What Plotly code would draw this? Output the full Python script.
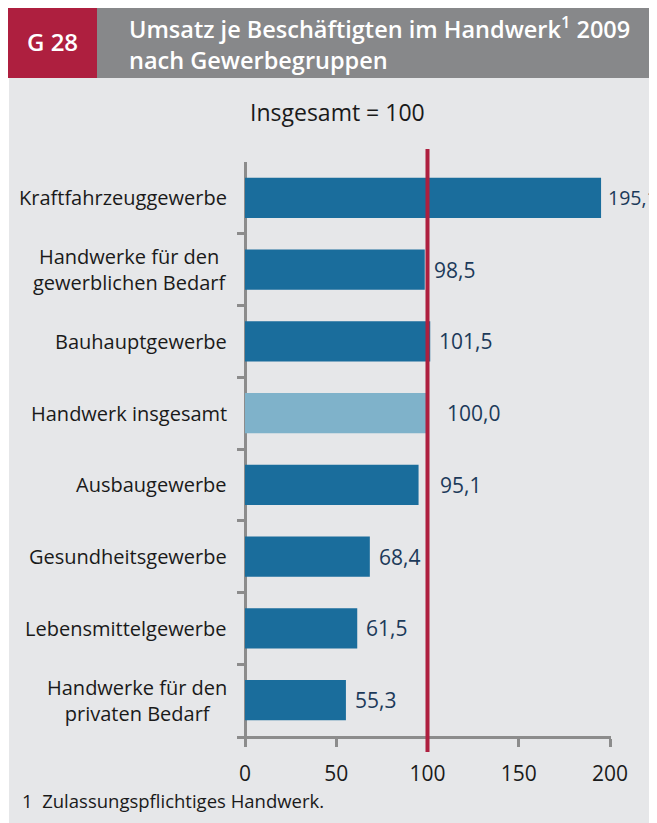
import plotly.graph_objects as go

categories = ["Kraftfahrzeuggewerbe", "Handwerke für den<br>gewerblichen Bedarf", "Bauhauptgewerbe",
              "Handwerk insgesamt", "Ausbaugewerbe", "Gesundheitsgewerbe",
              "Lebensmittelgewerbe", "Handwerke für den<br>privaten Bedarf"]
values = [195.1, 98.5, 101.5, 100.0, 95.1, 68.4, 61.5, 55.3]
value_labels = ["195,1", "98,5", "101,5", "100,0", "95,1", "68,4", "61,5", "55,3"]
x_ticks = [0, 50, 100, 150, 200]
reference_value = 100

# page is placed with an 8px body margin
OFF = 8
W, H = 657 - OFF, 823 - OFF
# plot area in reference (page) pixels
L, R, T, B = 237, 611, 162, 736

def px(x):
    return (x - L) / (R - L)

def py(y):
    return (B - y) / (B - T)

DARK = "#1a6d9c"
LIGHT = "#7fb2ca"
RED = "#ae1f3f"
GRAY_HEAD = "#87888a"
PANEL = "#e6e7e9"
AXIS = "#8c8c8c"
TXT = "#1a1a1a"
VAL = "#1c3a5a"
FONT = "Open Sans"

colors = [LIGHT if c == "Handwerk insgesamt" else DARK for c in categories]

fig = go.Figure()
fig.add_trace(go.Bar(
    x=values, y=categories, orientation="h", marker=dict(color=colors, line=dict(width=0)),
    width=0.56, hoverinfo="skip",
))

shapes = [
    dict(type="rect", xref="paper", yref="paper", x0=px(9), x1=px(700), y0=py(78), y1=py(900),
         fillcolor=PANEL, line=dict(width=0), layer="below"),
    dict(type="rect", xref="paper", yref="paper", x0=px(7), x1=px(97), y0=py(6), y1=py(78),
         fillcolor=RED, line=dict(width=0), layer="below"),
    dict(type="rect", xref="paper", yref="paper", x0=px(97), x1=px(700), y0=py(6), y1=py(78),
         fillcolor=GRAY_HEAD, line=dict(width=0), layer="below"),
    dict(type="line", xref="x", yref="paper", x0=reference_value, x1=reference_value,
         y0=py(149), y1=py(752), line=dict(color=RED, width=4), layer="above"),
]

label_shift = {"100,0": 17, "95,1": 19, "195,1": 5}
label_size = {"195,1": 19.5}
annotations = []
for c, v, lab in zip(categories, values, value_labels):
    annotations.append(dict(x=v, y=c, xref="x", yref="y", text=lab, showarrow=False,
                            xanchor="left", xshift=label_shift.get(lab, 7),
                            font=dict(family=FONT, size=label_size.get(lab, 21), color=VAL)))
    annotations.append(dict(x=px(229), y=c, xref="paper", yref="y", text=c, showarrow=False,
                            xanchor="right", align="center",
                            font=dict(family=FONT, size=20, color=TXT)))

annotations += [
    dict(x=px(52), y=py(42), xref="paper", yref="paper", text="G 28", showarrow=False,
         xanchor="center", yanchor="middle",
         font=dict(family=FONT, size=24, color="white", weight=600)),
    dict(x=px(127), y=py(27), xref="paper", yref="paper",
         text="Umsatz je Beschäftigten im Handwerk<sup>1</sup> 2009", showarrow=False,
         xanchor="left", yanchor="middle",
         font=dict(family=FONT, size=23.5, color="white", weight=600)),
    dict(x=px(127), y=py(60), xref="paper", yref="paper", text="nach Gewerbegruppen",
         showarrow=False, xanchor="left", yanchor="middle",
         font=dict(family=FONT, size=23.5, color="white", weight=600)),
    dict(x=px(337), y=py(112), xref="paper", yref="paper", text="Insgesamt = 100", showarrow=False,
         xanchor="center", yanchor="middle", font=dict(family=FONT, size=23, color=TXT)),
    dict(x=px(20), y=py(800), xref="paper", yref="paper", text="1  Zulassungspflichtiges Handwerk.",
         showarrow=False, xanchor="left", yanchor="middle",
         font=dict(family=FONT, size=18.5, color=TXT)),
]

x0_unit = -(245 - L) / (610 - 245) * 200
x1_unit = 200 + (R - 610) / (610 - 245) * 200

fig.update_layout(
    width=W, height=H,
    margin=dict(l=L - OFF, r=W + OFF - R, t=T - OFF, b=H + OFF - B, pad=0),
    paper_bgcolor="white", plot_bgcolor="rgba(0,0,0,0)",
    showlegend=False, shapes=shapes, annotations=annotations,
    xaxis=dict(range=[x0_unit, x1_unit], tickvals=x_ticks, ticktext=[str(t) for t in x_ticks],
               showgrid=False, zeroline=True, zerolinecolor=AXIS, zerolinewidth=3,
               showline=True, linecolor=AXIS, linewidth=3, ticks="outside", ticklen=8,
               tickwidth=3, tickcolor=AXIS, ticklabelstandoff=9,
               tickfont=dict(family=FONT, size=21, color=TXT), fixedrange=True),
    yaxis=dict(type="category", categoryorder="array", categoryarray=categories,
               autorange="reversed", showticklabels=False, showgrid=False, zeroline=False,
               showline=False, ticks="inside", tickson="boundaries", ticklen=8, tickwidth=3,
               tickcolor=AXIS, fixedrange=True),
    bargap=0.44,
)

fig.write_html("out.html")
